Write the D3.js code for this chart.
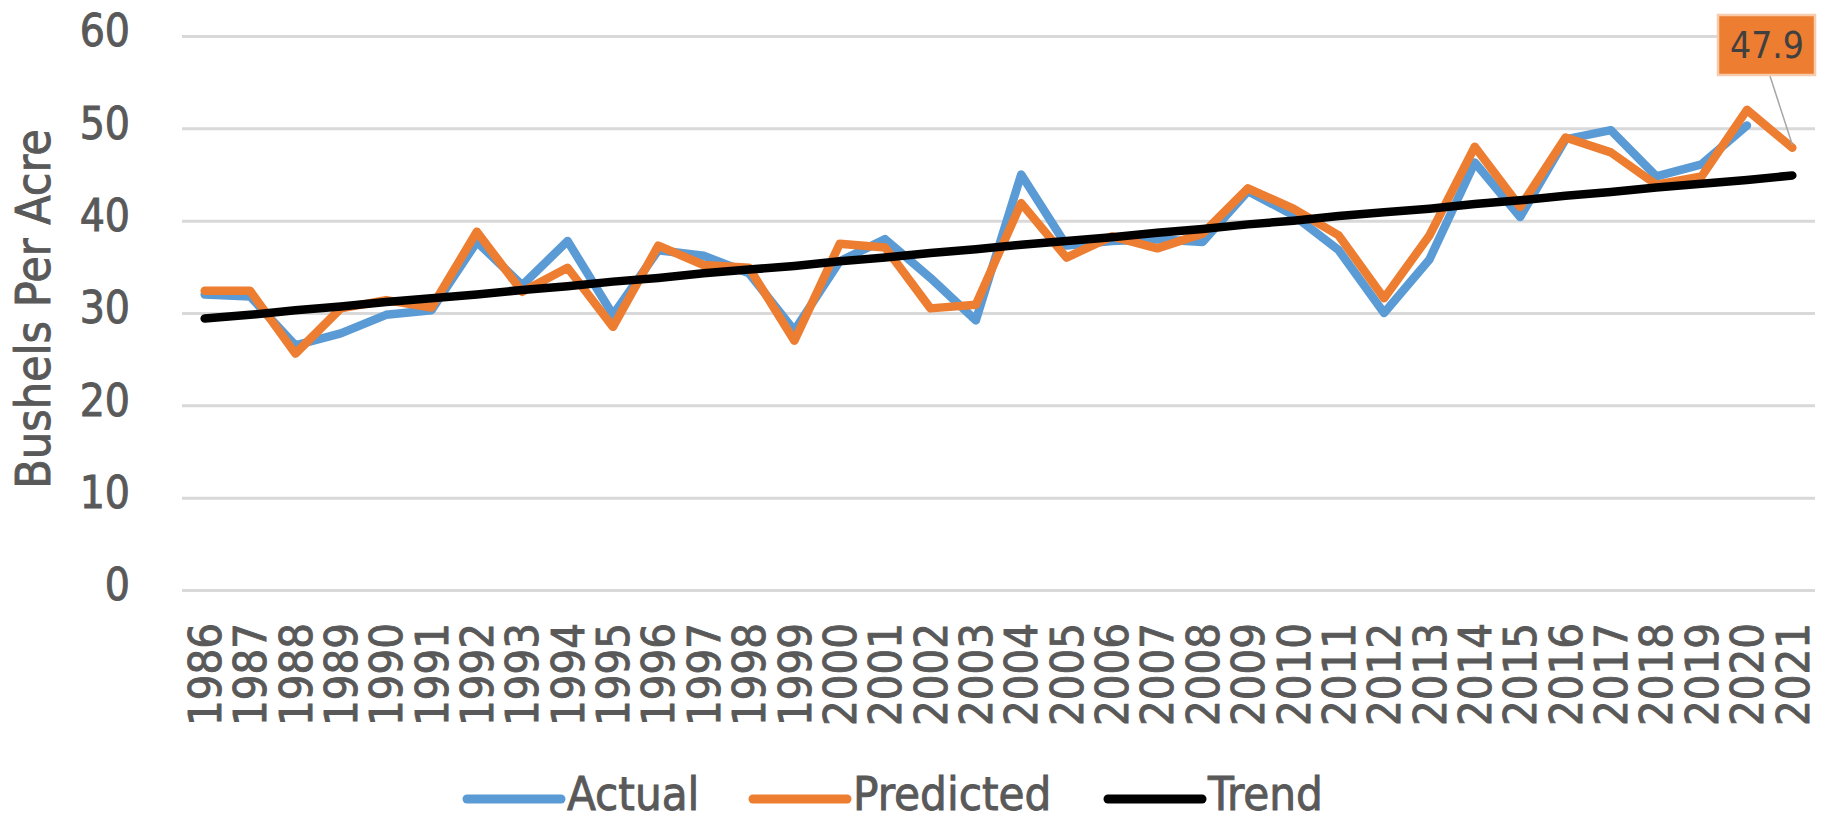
<!DOCTYPE html>
<html>
<head>
<meta charset="utf-8">
<script src="https://cdn.jsdelivr.net/npm/d3@7"></script>
<style>
  html, body { margin: 0; padding: 0; background: #fff; overflow: hidden; }
  svg text { font-family: "DejaVu Sans Condensed", "DejaVu Sans", sans-serif; font-stretch: condensed; }
  svg text.lbl { stroke: #595959; stroke-width: 0.9px; }
</style>
</head>
<body>
<div id="chart"></div>
<script>
// Chart size
const width = 1826;
const height = 822;

// Data
const years = [1986, 1987, 1988, 1989, 1990, 1991, 1992, 1993, 1994, 1995, 1996, 1997,
  1998, 1999, 2000, 2001, 2002, 2003, 2004, 2005, 2006, 2007, 2008, 2009,
  2010, 2011, 2012, 2013, 2014, 2015, 2016, 2017, 2018, 2019, 2020, 2021];

const actual = [32.0, 31.8, 26.5, 27.8, 29.8, 30.3, 37.7, 33.0, 37.8, 29.8, 36.8, 36.2,
  34.3, 28.1, 35.6, 38.0, 33.8, 29.2, 45.0, 37.3, 37.8, 38.0, 37.7, 43.2,
  40.6, 36.8, 30.0, 35.8, 46.3, 40.4, 48.8, 49.8, 44.8, 46.1, 50.3, null];

const predicted = [32.4, 32.4, 25.6, 30.5, 31.4, 30.6, 38.8, 32.3, 34.9, 28.5, 37.3, 35.2,
  34.9, 27.0, 37.5, 37.1, 30.5, 30.9, 41.9, 36.0, 38.3, 37.0, 38.6, 43.5,
  41.3, 38.4, 31.6, 38.4, 48.0, 41.5, 49.0, 47.4, 43.9, 44.8, 52.0, 47.9];

const trend = [29.4, 29.8, 30.3, 30.7, 31.2, 31.6, 32.0, 32.5, 32.9, 33.4, 33.8, 34.3,
  34.7, 35.1, 35.6, 36.0, 36.5, 36.9, 37.4, 37.8, 38.2, 38.7, 39.1, 39.6,
  40.0, 40.5, 40.9, 41.3, 41.8, 42.2, 42.7, 43.1, 43.6, 44.0, 44.4, 44.9];

const yTicks = [0, 10, 20, 30, 40, 50, 60];
const seriesNames = ["Actual", "Predicted", "Trend"];
const seriesColors = ["#5B9BD5", "#ED7D31", "#000000"];
const legendX = [467, 753, 1108];

// Scales
const x = d3.scaleBand().domain(years).range([182, 1815]);
const y = d3.scaleLinear().domain([0, 60]).range([590, 36]);
const cx = d => x(d) + x.bandwidth() / 2;

const svg = d3.select("#chart")
  .append("svg")
  .attr("width", width)
  .attr("height", height);

// Gridlines + y tick labels
const yAxis = svg.append("g")
  .attr("transform", "translate(182,0)")
  .call(d3.axisLeft(y).tickValues(yTicks).tickSize(-(1815 - 182)).tickPadding(52));
yAxis.select(".domain").remove();
yAxis.selectAll(".tick line").attr("stroke", "#D9D9D9").attr("stroke-width", 3);
yAxis.selectAll(".tick text")
  .attr("class", "lbl")
  .attr("fill", "#595959")
  .attr("font-size", 44)
  .attr("dy", "0.22em");

// Y axis title
svg.append("text")
  .attr("class", "lbl")
  .attr("transform", "translate(33,309) rotate(-90)")
  .attr("text-anchor", "middle")
  .attr("dy", "0.35em")
  .attr("font-size", 48)
  .attr("fill", "#595959")
  .text("Bushels Per Acre");

// X tick labels (rotated)
svg.append("g")
  .selectAll("text")
  .data(years)
  .join("text")
  .attr("class", "lbl")
  .attr("transform", d => `translate(${cx(d)},623) rotate(-90)`)
  .attr("text-anchor", "end")
  .attr("dy", "0.36em")
  .attr("font-size", 45)
  .attr("fill", "#595959")
  .text(d => d);

// Lines
const allSeries = [actual, predicted, trend];
allSeries.forEach((vals, i) => {
  const line = d3.line()
    .defined(d => d != null)
    .x((d, j) => cx(years[j]))
    .y(d => y(d));
  svg.append("path")
    .datum(vals)
    .attr("fill", "none")
    .attr("stroke", seriesColors[i])
    .attr("stroke-width", 8.5)
    .attr("stroke-linejoin", "round")
    .attr("stroke-linecap", "round")
    .attr("d", line);
});

// Data label for last predicted value
const lastIdx = years.length - 1;
const lx = cx(years[lastIdx]);
const ly = y(predicted[lastIdx]);
svg.append("line")
  .attr("x1", 1770).attr("y1", 76)
  .attr("x2", lx).attr("y2", ly - 3)
  .attr("stroke", "#A6A6A6")
  .attr("stroke-width", 1.5);
svg.append("rect")
  .attr("x", 1718).attr("y", 15)
  .attr("width", 97).attr("height", 60)
  .attr("fill", "#ED7D31")
  .attr("stroke", "#F8CBAD")
  .attr("stroke-width", 2.5);
svg.append("text")
  .attr("x", 1767).attr("y", 45)
  .attr("text-anchor", "middle")
  .attr("dy", "0.36em")
  .attr("font-size", 37)
  .attr("fill", "#404040")
  .text(predicted[lastIdx].toFixed(1));

// Legend
const legend = svg.append("g")
  .selectAll("g")
  .data(seriesNames)
  .join("g")
  .attr("transform", (d, i) => `translate(${legendX[i]},799)`);
legend.append("line")
  .attr("x1", 0).attr("x2", 94)
  .attr("y1", 0).attr("y2", 0)
  .attr("stroke", (d, i) => seriesColors[i])
  .attr("stroke-width", 9)
  .attr("stroke-linecap", "round");
legend.append("text")
  .attr("class", "lbl")
  .attr("x", 100)
  .attr("y", 11)
  .attr("font-size", 47)
  .attr("fill", "#595959")
  .text(d => d);
</script>
</body>
</html>
